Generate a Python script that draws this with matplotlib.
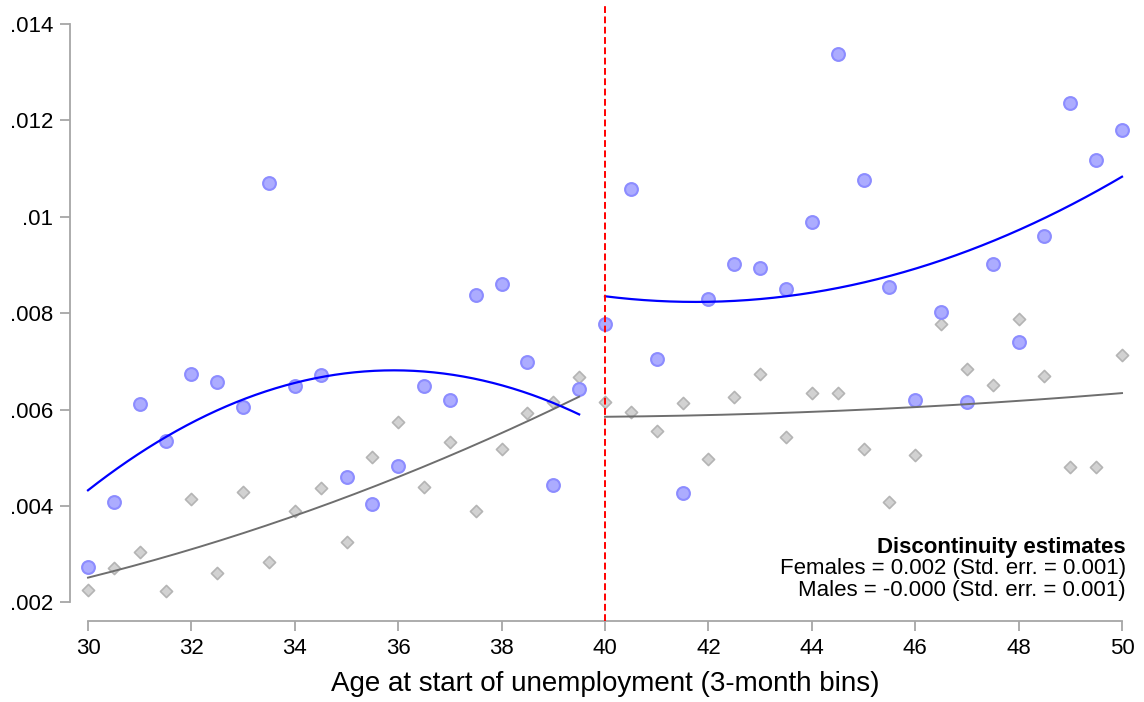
import numpy as np
import matplotlib.pyplot as plt
from matplotlib.ticker import FuncFormatter

plt.rcParams['font.family'] = ['Liberation Sans', 'DejaVu Sans']

# 3-month age bins
age = np.arange(30, 50.01, 0.5)

# binned rates
females = [.00274, .00408, .00612, .00536, .00674, .00657, .00606, .01070, .00649, .00671,
           .00460, .00405, .00483, .00649, .00620, .00837, .00861, .00698, .00444, .00643,
           .00778, .01057, .00705, .00427, .00829, .00903, .00893, .00850, .00990, .01337,
           .01077, .00854, .00620, .00803, .00615, .00902, .00740, .00961, .01236, .01119,
           .01180]
males = [.00226, .00272, .00305, .00224, .00415, .00261, .00430, .00283, .00390, .00438,
         .00326, .00501, .00574, .00440, .00532, .00390, .00518, .00593, .00615, .00668,
         .00616, .00595, .00556, .00613, .00498, .00626, .00675, .00543, .00635, .00635,
         .00519, .00409, .00507, .00778, .00684, .00651, .00789, .00669, .00482, .00482,
         .00714]
females = np.array(females)
males = np.array(males)

cutoff = 40
notes = ["Discontinuity estimates",
         "Females = 0.002 (Std. err. = 0.001)",
         "Males = -0.000 (Std. err. = 0.001)"]

fig = plt.figure(figsize=(11.44, 7.02), dpi=100)
ax = fig.add_axes([0.0612, 0.1154, 0.9353, 0.8761])

ax.scatter(age, males, marker='D', s=38, facecolor='#d2d2d2', edgecolor='#b4b4b4',
           linewidth=1.2, zorder=2)
ax.scatter(age, females, marker='o', s=85, facecolor='#acacff', edgecolor='#8c8cff',
           linewidth=1.5, zorder=3)

# quadratic fits on each side of the cutoff
left = age < cutoff
right = ~left
for vals, col, lw in [(males, '#6e6e6e', 1.4), (females, '#0000ff', 1.6)]:
    for mask in (left, right):
        xs = age[mask]
        coef = np.polyfit(xs, vals[mask], 2)
        xx = np.linspace(xs.min(), xs.max(), 200)
        ax.plot(xx, np.polyval(coef, xx), color=col, lw=lw, zorder=4)

ax.axvline(cutoff, color='#ff0000', lw=1.4, dashes=(3.5, 1.8), zorder=5)

ax.set_xlim(29.652, 50.348)
ax.set_ylim(.001616, .014376)
ax.set_xticks(np.arange(30, 51, 2))
ax.set_yticks(np.arange(.002, .0141, .002))
ax.yaxis.set_major_formatter(FuncFormatter(lambda v, p: ('%.3f' % v).rstrip('0').lstrip('0')))

for s in ['top', 'right']:
    ax.spines[s].set_visible(False)
for s in ['left', 'bottom']:
    ax.spines[s].set_color('#a6a6a6')
    ax.spines[s].set_linewidth(1.3)
ax.spines['left'].set_bounds(.002, .014)
ax.spines['bottom'].set_bounds(30, 50)
ax.tick_params(axis='both', colors='#a6a6a6', length=7, width=1.3, labelsize=16,
               labelcolor='black')
ax.tick_params(axis='x', pad=5)
ax.tick_params(axis='y', pad=5)

ax.set_xlabel("Age at start of unemployment (3-month bins)", fontsize=20, labelpad=9)

ys = [0.1187, 0.0846, 0.0488]
for i, t in enumerate(notes):
    ax.text(0.987, ys[i], t, transform=ax.transAxes, ha='right', va='center',
            fontsize=16, fontweight='bold' if i == 0 else 'normal')

fig.savefig('out.png', dpi=100)
